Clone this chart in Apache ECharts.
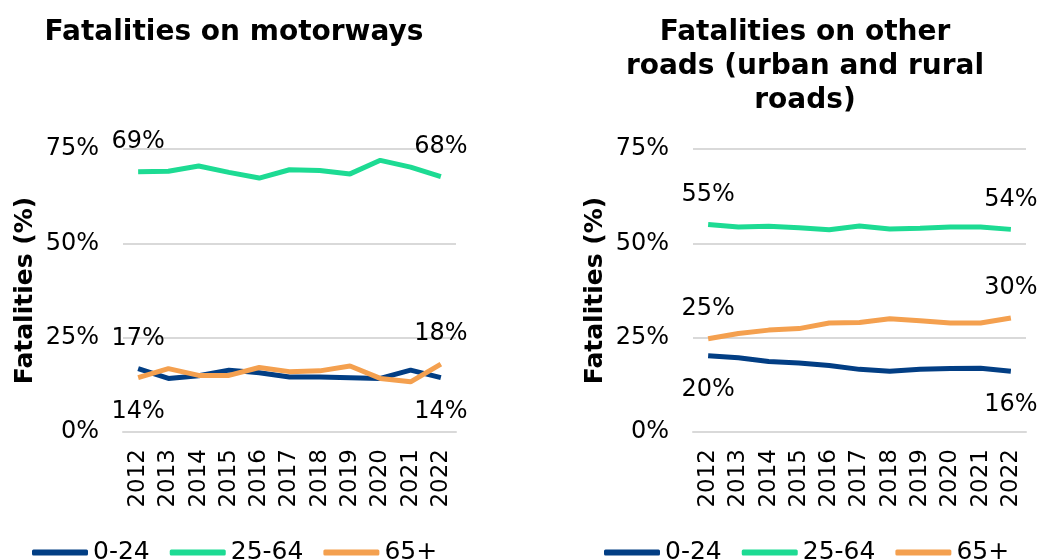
<!DOCTYPE html>
<html>
<head>
<meta charset="utf-8">
<script src="https://cdn.jsdelivr.net/npm/echarts@6/dist/echarts.min.js"></script>
<style>
  html, body { margin: 0; padding: 0; background: #fff; }
  #chart { width: 1042px; height: 560px; }
</style>
</head>
<body>
<div id="chart"></div>
<script>
// years on the x axis
const years = ['2012', '2013', '2014', '2015', '2016', '2017', '2018', '2019', '2020', '2021', '2022'];
const ageGroups = ['0-24', '25-64', '65+'];

// share of fatalities (%) on motorways
const motorway0to24 = [16.8, 14.2, 14.9, 16.4, 15.7, 14.6, 14.6, 14.4, 14.2, 16.4, 14.4];
const motorway25to64 = [69.0, 69.1, 70.5, 68.8, 67.3, 69.5, 69.3, 68.4, 72.0, 70.2, 67.7];
const motorway65plus = [14.4, 16.8, 15.0, 15.0, 17.1, 16.0, 16.2, 17.5, 14.2, 13.3, 18.0];

// share of fatalities (%) on other roads (urban and rural)
const other0to24 = [20.2, 19.7, 18.7, 18.3, 17.6, 16.6, 16.1, 16.6, 16.8, 16.9, 16.1];
const other25to64 = [55.0, 54.3, 54.5, 54.1, 53.6, 54.6, 53.8, 54.0, 54.3, 54.3, 53.7];
const other65plus = [24.7, 26.1, 27.0, 27.4, 28.9, 29.0, 30.0, 29.5, 28.9, 28.9, 30.2];

const yTicks = [0, 25, 50, 75];

const colors = ['#023e84', '#1ddb93', '#f4a04f'];
const font = 'DejaVu Sans, Verdana, sans-serif';

const chart = echarts.init(document.getElementById('chart'));

// first and last point get a value label, above or below the line
const endLabel = pos => ({
  show: true,
  position: pos,
  distance: pos === 'top' ? 18 : 22,
  formatter: p => Math.round(p.value) + '%',
  fontFamily: font,
  fontSize: 24,
  color: '#000'
});

const withEndLabels = (values, firstPos, lastPos) => values.map((v, i) => {
  if (i === 0) return { value: v, label: endLabel(firstPos) };
  if (i === values.length - 1) return { value: v, label: endLabel(lastPos) };
  return v;
});

const makeSeries = (gridIdx, sets) => sets.map((s, k) => ({
  name: ageGroups[k],
  type: 'line',
  xAxisIndex: gridIdx,
  yAxisIndex: gridIdx,
  symbol: 'circle',
  symbolSize: 0,
  showSymbol: true,
  lineStyle: { width: 5, color: colors[k] },
  itemStyle: { color: colors[k] },
  label: { show: false },
  emphasis: { disabled: true },
  data: withEndLabels(s.values, s.pos[0], s.pos[1]),
  z: 3 + k
}));

const xAxisCfg = gridIdx => ({
  type: 'category',
  gridIndex: gridIdx,
  data: years,
  boundaryGap: true,
  axisLine: { show: true, lineStyle: { color: '#d9d9d9', width: 2 } },
  axisTick: { show: false },
  axisLabel: { rotate: 90, margin: 17, fontFamily: font, fontSize: 23, color: '#000' }
});

const yAxisCfg = gridIdx => ({
  type: 'value',
  gridIndex: gridIdx,
  min: yTicks[0],
  max: yTicks[yTicks.length - 1],
  interval: 25,
  name: 'Fatalities (%)',
  nameLocation: 'middle',
  nameGap: 85,
  nameTextStyle: { fontFamily: font, fontSize: 25, fontWeight: 'bold', color: '#000' },
  axisLine: { show: false },
  axisTick: { show: false },
  axisLabel: { margin: 24, fontFamily: font, fontSize: 24, color: '#000', formatter: '{value}%' },
  splitLine: { lineStyle: { color: '#d9d9d9', width: 2 } }
});

const legendCfg = left => ({
  data: ageGroups,
  left: left,
  top: 535,
  icon: 'roundRect',
  itemWidth: 56,
  itemHeight: 6,
  itemGap: 20,
  textStyle: { fontFamily: font, fontSize: 25, color: '#000' },
  selectedMode: false
});

const titleStyle = { fontFamily: font, fontSize: 28, fontWeight: 'bold', color: '#000', lineHeight: 34 };

chart.setOption({
  animation: false,
  title: [
    {
      text: 'Fatalities on motorways',
      left: 229,
      textAlign: 'center',
      top: 11,
      textStyle: titleStyle
    },
    {
      text: 'Fatalities on other\nroads (urban and rural\nroads)',
      left: 800,
      textAlign: 'center',
      top: 11,
      textStyle: titleStyle
    }
  ],
  legend: [legendCfg(27), legendCfg(599)],
  grid: [
    { left: 123, right: 586, top: 149, bottom: 128 },
    { left: 693, right: 16, top: 149, bottom: 128 }
  ],
  xAxis: [xAxisCfg(0), xAxisCfg(1)],
  yAxis: [yAxisCfg(0), yAxisCfg(1)],
  series: [
    ...makeSeries(0, [
      { values: motorway0to24, pos: ['top', 'bottom'] },
      { values: motorway25to64, pos: ['top', 'top'] },
      { values: motorway65plus, pos: ['bottom', 'top'] }
    ]),
    ...makeSeries(1, [
      { values: other0to24, pos: ['bottom', 'bottom'] },
      { values: other25to64, pos: ['top', 'top'] },
      { values: other65plus, pos: ['top', 'top'] }
    ])
  ]
});
</script>
</body>
</html>
